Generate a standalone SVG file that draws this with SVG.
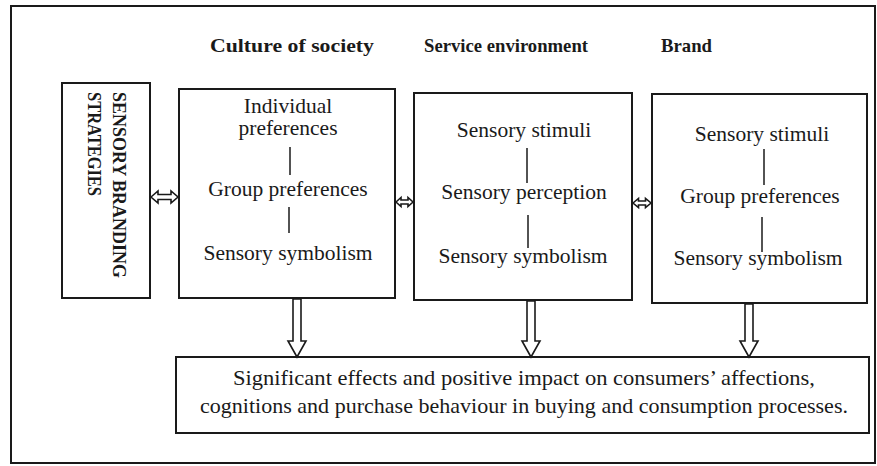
<svg xmlns="http://www.w3.org/2000/svg" width="877" height="466" viewBox="0 0 877 466">
<style>
.box{fill:#fff;stroke:#1a1a1a;stroke-width:2}
.frame{fill:#fff;stroke:#1a1a1a;stroke-width:2}
.t{font-family:"Liberation Serif","Times New Roman",serif;font-size:21.5px;fill:#1a1a1a;text-anchor:middle}
.h{font-family:"Liberation Serif","Times New Roman",serif;font-size:19px;font-weight:bold;fill:#1a1a1a}
.v{font-family:"Liberation Serif","Times New Roman",serif;font-size:19px;font-weight:bold;fill:#1a1a1a}
.sep{stroke:#1a1a1a;stroke-width:1.5}
.arr{fill:#fff;stroke:#1a1a1a;stroke-width:1.6;stroke-linejoin:miter}
</style>
<rect class="frame" x="11" y="6" width="864" height="457"/>
<g id="headers">
<text class="h" x="210" y="52" textLength="164" lengthAdjust="spacingAndGlyphs">Culture of society</text>
<text class="h" x="424" y="52" textLength="164" lengthAdjust="spacingAndGlyphs">Service environment</text>
<text class="h" x="661" y="52" textLength="51" lengthAdjust="spacingAndGlyphs">Brand</text>
</g>
<g id="strategies">
<rect class="box" x="62" y="83" width="88" height="215"/>
<text class="v" transform="translate(113,92) rotate(90)" textLength="186" lengthAdjust="spacingAndGlyphs">SENSORY BRANDING</text>
<text class="v" transform="translate(88,92) rotate(90)" textLength="104" lengthAdjust="spacingAndGlyphs">STRATEGIES</text>
</g>
<g id="culture">
<rect class="box" x="179" y="89" width="216" height="209"/>
<text class="t" x="288" y="113">Individual</text>
<text class="t" x="288" y="135">preferences</text>
<line class="sep" x1="290" y1="147" x2="290" y2="175"/>
<text class="t" x="288" y="196">Group preferences</text>
<line class="sep" x1="289" y1="207" x2="289" y2="233"/>
<text class="t" x="288" y="260">Sensory symbolism</text>
</g>
<g id="service">
<rect class="box" x="414" y="93" width="218" height="207"/>
<text class="t" x="524" y="137">Sensory stimuli</text>
<line class="sep" x1="527" y1="148" x2="527" y2="183"/>
<text class="t" x="524" y="199">Sensory perception</text>
<line class="sep" x1="528" y1="215" x2="528" y2="248"/>
<text class="t" x="523" y="263">Sensory symbolism</text>
</g>
<g id="brand">
<rect class="box" x="652" y="94" width="215" height="209"/>
<text class="t" x="762" y="141">Sensory stimuli</text>
<line class="sep" x1="764" y1="149" x2="764" y2="185"/>
<text class="t" x="760" y="203">Group preferences</text>
<line class="sep" x1="762" y1="217" x2="762" y2="252"/>
<text class="t" x="758" y="265">Sensory symbolism</text>
</g>
<g id="outcome">
<rect class="box" x="176" y="357" width="693" height="76"/>
<text class="t" x="524" y="385" textLength="582" lengthAdjust="spacingAndGlyphs">Significant effects and positive impact on consumers’ affections,</text>
<text class="t" x="524" y="413" textLength="648" lengthAdjust="spacingAndGlyphs">cognitions and purchase behaviour in buying and consumption processes.</text>
</g>
<g id="connectors">
<polygon class="arr" points="151,197 158,191 158,194.5 171,194.5 171,191 178,197 171,203 171,199.5 158,199.5 158,203"/>
<polygon class="arr" points="396,202 401,197.5 401,200 408,200 408,197.5 413,202 408,206.5 408,204 401,204 401,206.5"/>
<polygon class="arr" points="633,203 638.5,198.5 638.5,201 645.5,201 645.5,198.5 651,203 645.5,207.5 645.5,205 638.5,205 638.5,207.5"/>
<polygon class="arr" points="293,299 301,299 301,341 306,341 297,357 288,341 293,341"/>
<polygon class="arr" points="527,301 535,301 535,341 540,341 531,357 522,341 527,341"/>
<polygon class="arr" points="745,304 753,304 753,341 758,341 749,357 740,341 745,341"/>
</g>
</svg>
